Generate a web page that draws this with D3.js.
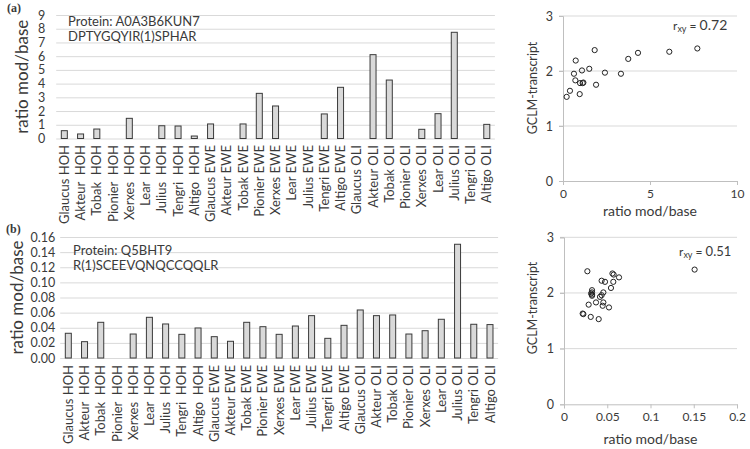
<!DOCTYPE html>
<html>
<head>
<meta charset="utf-8">
<script src="https://cdn.jsdelivr.net/npm/d3@7"></script>
<style>
  html, body { margin: 0; padding: 0; background: #fff; }
  svg { display: block; font-family: Lato, "Open Sans", sans-serif; }
  text { fill: #3a3a3a; }
</style>
</head>
<body>
<svg id="chart" width="750" height="449"></svg>
<script>
// ---------- DATA ----------
const categories = [
  "Glaucus HOH", "Akteur  HOH", "Tobak  HOH", "Pionier  HOH", "Xerxes  HOH", "Lear  HOH",
  "Julius  HOH", "Tengri  HOH", "Altigo  HOH",
  "Glaucus EWE", "Akteur EWE", "Tobak EWE", "Pionier EWE", "Xerxes EWE", "Lear EWE",
  "Julius EWE", "Tengri EWE", "Altigo EWE",
  "Glaucus OLI", "Akteur OLI", "Tobak OLI", "Pionier OLI", "Xerxes OLI", "Lear OLI",
  "Julius OLI", "Tengri OLI", "Altigo OLI"
];
const ratioA = [0.57, 0.33, 0.69, 0, 1.47, 0, 0.93, 0.91, 0.18,
                1.06, 0, 1.06, 3.29, 2.37, 0, 0, 1.79, 3.73,
                0, 6.11, 4.26, 0, 0.67, 1.81, 7.74, 0, 1.03];
const ratioB = [0.0327, 0.0216, 0.0472, 0, 0.0317, 0.0538, 0.045, 0.0313, 0.0397,
                0.0282, 0.0221, 0.0472, 0.0414, 0.0313, 0.0423, 0.056, 0.026, 0.0432,
                0.0635, 0.056, 0.0569, 0.0317, 0.0361, 0.0512, 0.1504, 0.0446, 0.0442];
const ticksA = [0, 1, 2, 3, 4, 5, 6, 7, 8, 9];
const ticksB = [0, 0.02, 0.04, 0.06, 0.08, 0.10, 0.12, 0.14, 0.16];

// scatter (a): ratio mod/base vs GCLM-transcript
const scatterAX = [0.21, 0.40, 0.63, 0.73, 0.71, 0.96, 0.98, 1.09, 1.13, 1.17, 1.51, 1.82, 1.90, 2.41, 3.33, 3.75, 4.31, 6.11, 7.72];
const scatterAY = [1.53, 1.64, 1.95, 2.19, 1.83, 1.58, 1.78, 2.01, 1.78, 1.79, 2.04, 2.38, 1.75, 1.97, 1.95, 2.22, 2.33, 2.35, 2.41];
// scatter (b)
const scatterBX = [0.0270, 0.0224, 0.0216, 0.0309, 0.0401, 0.0285, 0.0370, 0.0324, 0.0324, 0.0324, 0.0324, 0.0416, 0.0435,
                   0.0455, 0.0447, 0.0455, 0.0520, 0.0435, 0.0474, 0.0543, 0.0560, 0.0574, 0.0570, 0.0636, 0.1510, 0.0313];
const scatterBY = [2.39, 1.62, 1.63, 1.57, 1.53, 1.79, 1.83, 2.05, 2.01, 1.97, 1.95, 1.93, 1.96,
                   2.01, 1.77, 1.83, 1.74, 2.22, 2.20, 2.09, 2.35, 2.33, 2.20, 2.28, 2.42, 1.99];
const scatterXTicksA = [0, 5, 10];
const scatterXTicksB = [0, 0.05, 0.1, 0.15, 0.2];
const scatterYTicks = [0, 1, 2, 3];

// ---------- DRAW ----------
const svg = d3.select("#chart");
const GRID = "#d9d9d9", AXIS = "#bfbfbf", TXT = "#3a3a3a";

function barChart(opt) {
  const g = svg.append("g");
  const x = d3.scaleBand().domain(categories).range(opt.xr).paddingInner(0.63).paddingOuter(0.315);
  const y = d3.scaleLinear().domain(opt.yd).range(opt.yr);
  // gridlines + tick labels
  const ax = d3.axisLeft(y).tickValues(opt.ticks).tickSize(-(opt.xr[1] - opt.xr[0]))
    .tickFormat(opt.fmt).tickPadding(opt.tickPad);
  const ag = g.append("g").attr("transform", `translate(${opt.xr[0]},0)`).call(ax);
  ag.select(".domain").remove();
  ag.selectAll(".tick line").attr("stroke", GRID).attr("stroke-width", 1);
  ag.selectAll(".tick text").attr("font-size", 12.5).attr("fill", TXT).attr("font-family", "Lato");
  // bars
  g.selectAll("rect.bar").data(opt.values).join("rect")
    .attr("class", "bar")
    .attr("x", (d, i) => x(categories[i]))
    .attr("width", x.bandwidth())
    .attr("y", d => y(d))
    .attr("height", d => y(0) - y(d))
    .attr("fill", "#d9d9d9")
    .attr("stroke", d => d > 0 ? "#3a3a3a" : "none")
    .attr("stroke-width", 1);
  // x labels
  g.selectAll("text.xl").data(categories).join("text")
    .attr("class", "xl")
    .attr("transform", d => `translate(${x(d) + x.bandwidth() / 2},${opt.yr[0] + opt.labelGap}) rotate(-90)`)
    .attr("text-anchor", "end")
    .attr("dy", "0.35em")
    .attr("font-size", 13)
    .style("white-space", "pre")
    .text(d => d);
  // y title
  g.append("text")
    .attr("transform", `translate(${opt.titleX},${(opt.yr[0] + opt.yr[1]) / 2}) rotate(-90)`)
    .attr("text-anchor", "middle").attr("dy", "0.35em")
    .attr("font-size", 17).text("ratio mod/base");
  // annotations
  g.append("text").attr("x", opt.annX).attr("y", opt.annY[0]).attr("font-size", 13).text(opt.ann[0]);
  g.append("text").attr("x", opt.annX).attr("y", opt.annY[1]).attr("font-size", 13).text(opt.ann[1]);
  // panel label
  g.append("text").attr("x", opt.panel[0]).attr("y", opt.panel[1])
    .attr("font-family", "'Liberation Serif', serif").attr("font-weight", "bold")
    .attr("font-size", 12).attr("fill", "#222").text(opt.panelText);
}

barChart({
  values: ratioA, xr: [56.2, 494.9], yd: [0, 9], yr: [138.5, 15], ticks: ticksA,
  fmt: d3.format("d"), tickPad: 11, labelGap: 6.5, titleX: 22,
  annX: 68, annY: [26, 41], ann: ["Protein: A0A3B6KUN7", "DPTYGQYIR(1)SPHAR"],
  panel: [7, 12], panelText: "(a)"
});
barChart({
  values: ratioB, xr: [60.2, 498.1], yd: [0, 0.16], yr: [358, 237], ticks: ticksB,
  fmt: d3.format(".2f"), tickPad: 5, labelGap: 7, titleX: 17,
  annX: 73, annY: [255, 270], ann: ["Protein: Q5BHT9", "R(1)SCEEVQNQCCQQLR"],
  panel: [6, 233], panelText: "(b)"
});

function scatter(opt) {
  const g = svg.append("g");
  const x = d3.scaleLinear().domain(opt.xd).range(opt.xr);
  const y = d3.scaleLinear().domain([0, 3]).range(opt.yr);
  // horizontal gridlines
  g.selectAll("line.grid").data(scatterYTicks.filter(d => d > 0)).join("line")
    .attr("x1", opt.xr[0] - 4).attr("x2", opt.xr[1])
    .attr("y1", d => y(d)).attr("y2", d => y(d))
    .attr("stroke", GRID);
  // y axis
  const ya = d3.axisLeft(y).tickValues(scatterYTicks).tickSize(4).tickPadding(6).tickFormat(d3.format("d"));
  const yg = g.append("g").attr("transform", `translate(${opt.xr[0]},0)`).call(ya);
  yg.select(".domain").attr("stroke", AXIS);
  yg.selectAll(".tick line").attr("stroke", AXIS);
  yg.selectAll(".tick text").attr("font-size", 12.5).attr("fill", TXT).attr("font-family", "Lato");
  // x axis
  const xa = d3.axisBottom(x).tickValues(opt.xticks).tickSize(4).tickPadding(4).tickFormat(d => String(d));
  const xg = g.append("g").attr("transform", `translate(0,${opt.yr[0]})`).call(xa);
  xg.select(".domain").attr("stroke", AXIS);
  xg.selectAll(".tick line").attr("stroke", AXIS);
  xg.selectAll(".tick text").attr("font-size", 12).attr("fill", TXT).attr("font-family", "Lato");
  // points
  g.selectAll("circle").data(opt.xs).join("circle")
    .attr("cx", d => x(d)).attr("cy", (d, i) => y(opt.ys[i]))
    .attr("r", 2.6).attr("fill", "none").attr("stroke", "#222").attr("stroke-width", 1);
  // titles
  g.append("text").attr("x", (opt.xr[0] + opt.xr[1]) / 2).attr("y", opt.xTitleY)
    .attr("text-anchor", "middle").attr("font-size", 14).text("ratio mod/base");
  g.append("text")
    .attr("transform", `translate(${opt.yTitleX},${opt.yTitleY}) rotate(-90)`)
    .attr("text-anchor", "middle").attr("dy", "0.35em")
    .attr("font-size", 12.5).text("GCLM-transcript");
  // r label
  const t = g.append("text").attr("x", opt.r[0]).attr("y", opt.r[1]).attr("font-size", 12);
  t.append("tspan").text("r");
  t.append("tspan").attr("font-size", 9).attr("dy", 1.5).text("xy");
  t.append("tspan").attr("dy", -1.5).attr("font-size", 12).text(opt.rSep);
  t.append("tspan").attr("font-size", opt.rSize).text(opt.rVal);
}

scatter({
  xd: [0, 10], xr: [563, 737], yr: [181, 16], xticks: scatterXTicksA, xs: scatterAX, ys: scatterAY,
  xTitleY: 216, yTitleX: 533, yTitleY: 88, r: [673, 30], rSep: " =  ", rVal: "0.72", rSize: 14
});
scatter({
  xd: [0, 0.2], xr: [564, 737], yr: [404.3, 237.3], xticks: scatterXTicksB, xs: scatterBX, ys: scatterBY,
  xTitleY: 444, yTitleX: 533, yTitleY: 308, r: [679, 256], rSep: " = ", rVal: "0.51", rSize: 13
});
</script>
</body>
</html>
